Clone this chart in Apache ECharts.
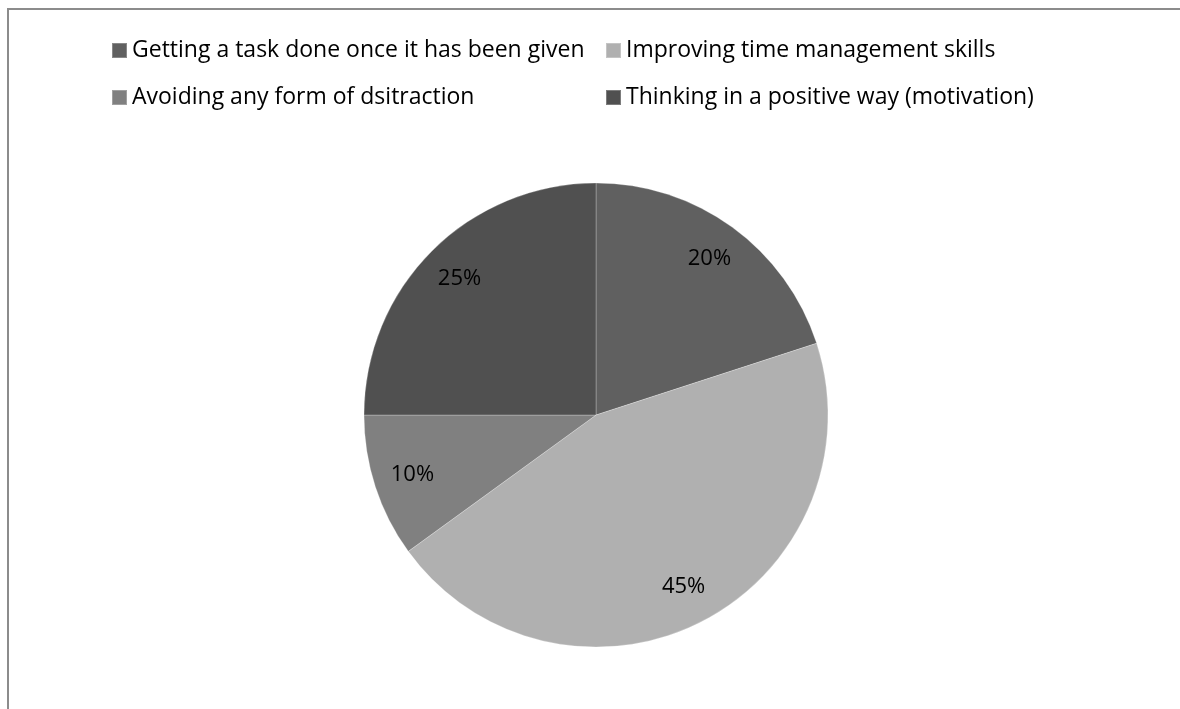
<!DOCTYPE html>
<html>
<head>
<meta charset="utf-8">
<style>
  html, body { margin: 0; padding: 0; background: #fff; }
  #chart { width: 1180px; height: 709px; }
</style>
<script src="https://cdn.jsdelivr.net/npm/echarts@6/dist/echarts.min.js"></script>
</head>
<body>
<div id="chart"></div>
<script>
// Survey answers: share of respondents per strategy
const categories = [
  'Getting a task done once it has been given',
  'Improving time management skills',
  'Avoiding any form of dsitraction',
  'Thinking in a positive way (motivation)'
];
const shares = [20, 45, 10, 25];
const sliceColors = ['#606060', '#b0b0b0', '#808080', '#505050'];

const FONT = '"Open Sans", "Noto Sans", sans-serif';
const pieData = categories.map((name, i) => ({
  name,
  value: shares[i],
  itemStyle: { color: sliceColors[i] }
}));

const chart = echarts.init(document.getElementById('chart'), null, { renderer: 'canvas' });

const legendText = { fontFamily: FONT, fontSize: 23, color: '#000' };
const legendCommon = {
  orient: 'vertical', top: 39, padding: 0,
  itemWidth: 15, itemHeight: 15, itemGap: 24,
  icon: 'rect', textStyle: legendText, selectedMode: false
};

chart.setOption({
  animation: false,
  backgroundColor: '#fff',
  legend: [
    Object.assign({ data: [categories[0], categories[2]], left: 111 }, legendCommon),
    Object.assign({ data: [categories[1], categories[3]], left: 605 }, legendCommon)
  ],
  graphic: [
    {
      type: 'polyline',
      shape: { points: [[8, 709], [8, 9], [1180, 9]] },
      style: { stroke: '#8c8c8c', lineWidth: 2, fill: null },
      silent: true
    }
  ],
  series: [
    {
      type: 'pie',
      center: [596, 415],
      radius: 232,
      startAngle: 90,
      clockwise: true,
      data: pieData,
      label: { show: false },
      labelLine: { show: false },
      itemStyle: { borderColor: 'rgba(255,255,255,0.25)', borderWidth: 1 },
      emphasis: { disabled: true }
    },
    {
      // transparent ring that carries the percentage labels near the rim
      type: 'pie',
      center: [596, 415],
      radius: [148, 232],
      startAngle: 90,
      clockwise: true,
      silent: true,
      data: pieData.map(d => ({ name: d.name, value: d.value, itemStyle: { color: 'rgba(0,0,0,0)' } })),
      label: {
        show: true,
        position: 'inside',
        formatter: p => p.value + '%',
        fontFamily: FONT,
        fontSize: 22,
        color: '#000'
      },
      labelLine: { show: false },
      emphasis: { disabled: true }
    }
  ]
});
</script>
</body>
</html>
